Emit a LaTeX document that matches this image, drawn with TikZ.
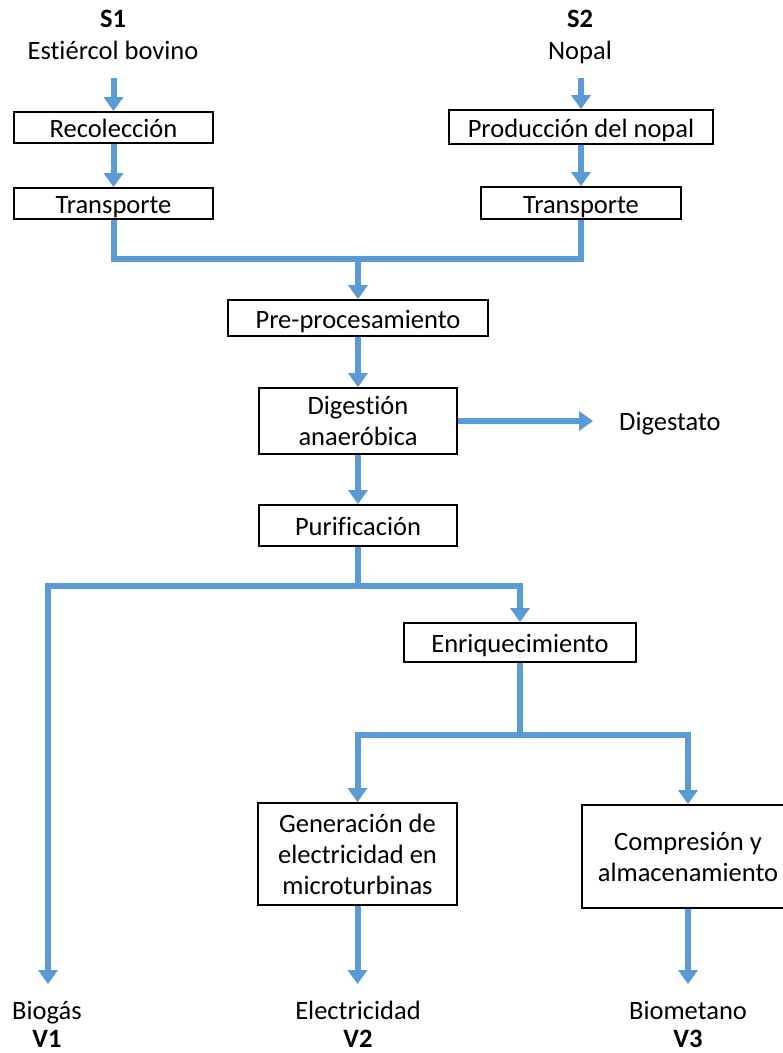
\documentclass[tikz,border=0pt]{standalone}
\usepackage{fontspec}
\setmainfont{Carlito}[Ligatures=NoCommon]
\usetikzlibrary{arrows.meta}
\definecolor{flow}{HTML}{5B9BD5}
\begin{document}
\begin{tikzpicture}[x=1pt,y=-1pt,
  box/.style={draw=black, line width=1.8pt, inner sep=0pt, align=center, font=\fontsize{26.5}{31}\selectfont},
  sbox/.style={box, text height=23pt, text depth=3pt},
  lbl/.style={inner sep=0pt, anchor=base, font=\fontsize{26.5}{31}\selectfont},
  blbl/.style={lbl, font=\fontsize{26.5}{31}\selectfont\bfseries},
  flowline/.style={draw=flow, line width=6pt},
  flowarrow/.style={flowline, -{Triangle[length=14pt,width=19pt]}},
]
\useasboundingbox (0,0) rectangle (783,1053);

% boxes
\node[sbox, minimum width=199pt, minimum height=31pt] (rec) at (113.5,127.5) {Recolección};
\node[sbox, minimum width=199pt, minimum height=31pt] (tr1) at (113.5,203.5) {Transporte};
\node[sbox, minimum width=264pt, minimum height=34pt] (prod) at (581,127) {Producción del nopal};
\node[sbox, minimum width=200pt, minimum height=32pt] (tr2) at (581,203) {Transporte};
\node[sbox, minimum width=260pt, minimum height=36pt] (pre) at (358,318) {Pre-procesamiento};
\node[box, minimum width=198pt, minimum height=66pt] (dig) at (358,421) {Digestión\\anaeróbica};
\node[sbox, minimum width=198pt, minimum height=41pt] (pur) at (358,525.5) {Purificación};
\node[sbox, minimum width=232pt, minimum height=39pt] (enr) at (520,642.5) {Enriquecimiento};
\node[box, minimum width=199pt, minimum height=102pt] (gen) at (357.5,854) {Generación de\\electricidad en\\microturbinas};
\node[box, minimum width=212pt, minimum height=103pt] (com) at (688,856.5) {Compresión y\\almacenamiento};

% labels
\node[blbl] (s1) at (113,27) {S1};
\node[lbl] (s1t) at (113,59) {Estiércol bovino};
\node[blbl] (s2) at (580,27) {S2};
\node[lbl] (s2t) at (580,59) {Nopal};
\node[lbl, anchor=base west] (dgt) at (619,430) {Digestato};
\node[lbl] (bio) at (47,1019) {Biogás};
\node[blbl] (v1) at (47,1047) {V1};
\node[lbl] (ele) at (358,1019) {Electricidad};
\node[blbl] (v2) at (358,1047) {V2};
\node[lbl] (bme) at (688,1019) {Biometano};
\node[blbl] (v3) at (688,1047) {V3};

% coordinates
\coordinate (a1) at (113.5,78);
\coordinate (a2) at (581,78);
\coordinate (j1) at (358,259);
\coordinate (dend) at (593,421);
\coordinate (j2) at (358,586);
\coordinate (v1end) at (48,984);
\coordinate (j3) at (520,735);
\coordinate (v2end) at (357.5,984);
\coordinate (v3end) at (688,984);

% connectors
\draw[flowarrow] (a1) -- (rec.north);
\draw[flowarrow] (rec.south) -- (tr1.north);
\draw[flowarrow] (a2) -- (prod.north);
\draw[flowarrow] (prod.south) -- (tr2.north);
\draw[flowline] (tr1.south) |- (j1) -| (tr2.south);
\draw[flowarrow] (j1) -- (pre.north);
\draw[flowarrow] (pre.south) -- (dig.north);
\draw[flowarrow] (dig.east) -- (dend);
\draw[flowarrow] (dig.south) -- (pur.north);
\draw[flowarrow] (pur.south) -- (j2) -| (v1end);
\draw[flowarrow] (j2) -| (enr.north);
\draw[flowarrow] (enr.south) -- (j3) -| (gen.north);
\draw[flowarrow] (j3) -| (com.north);
\draw[flowarrow] (gen.south) -- (v2end);
\draw[flowarrow] (com.south) -- (v3end);
\end{tikzpicture}
\end{document}
